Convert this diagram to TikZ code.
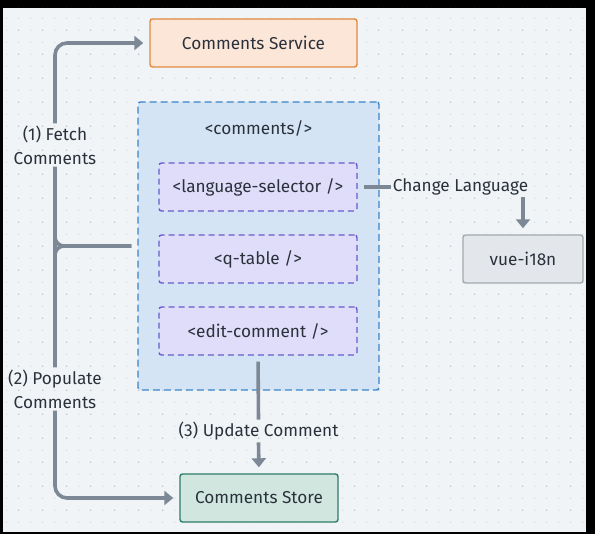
\documentclass[tikz,border=0pt]{standalone}
\usepackage{fontspec}
\setmainfont{Fira Sans}
\usetikzlibrary{positioning,arrows.meta}

\definecolor{bgcol}{HTML}{F1F4F7}
\definecolor{dotcol}{HTML}{D9DEE3}
\definecolor{dotdark}{HTML}{C3C9CF}
\definecolor{linkcol}{HTML}{7D8896}
\definecolor{txtcol}{HTML}{2B313B}
\definecolor{svcdraw}{HTML}{E2893E}
\definecolor{svcfill}{HTML}{FBE6D8}
\definecolor{outdraw}{HTML}{3A86C8}
\definecolor{outfill}{HTML}{D4E4F4}
\definecolor{cmpdraw}{HTML}{6A5ACD}
\definecolor{cmpfill}{HTML}{E0DDFA}
\definecolor{extdraw}{HTML}{A3A9AF}
\definecolor{extfill}{HTML}{E3E7EB}
\definecolor{stodraw}{HTML}{2E7D66}
\definecolor{stofill}{HTML}{D1E6DF}

\begin{document}
\begin{tikzpicture}[x=1pt,y=-1pt,
  font=\fontsize{17.2}{24}\selectfont, text=txtcol,
  box/.style={rounded corners=2.5pt, line width=1.4pt, minimum height=48pt, inner sep=0pt},
  cmp/.style={box, dashed, dash pattern=on 6pt off 4pt, draw=cmpdraw, fill=cmpfill, minimum width=198pt},
  lbl/.style={align=center, inner sep=2pt},
  link/.style={draw=linkcol, line width=3.6pt},
  arr/.style={link, -{Triangle[length=9pt,width=14pt]}}]
	%BACKGROUND
	\fill[black] (0,0) rectangle (595,534);
	\fill[bgcol] (3,8) rectangle (586,532);
	\begin{scope}
		\clip (3,8) rectangle (586,532);
		\foreach \i in {0,...,48}
			\foreach \j in {0,...,44}
				\fill[dotcol] (6.7+12*\i,6.3+12*\j) circle (0.8pt);
		\foreach \i in {0,...,24}
			\foreach \j in {0,...,22}
				\fill[dotdark] (18.7+24*\i,6.3+24*\j) circle (0.8pt);
	\end{scope}

	%BOXES
	\node[box, draw=svcdraw, fill=svcfill, minimum width=207pt] (service) at (253.5,43) {Comments Service};
	\node[box, dashed, dash pattern=on 7pt off 4pt, draw=outdraw, fill=outfill, minimum width=241pt, minimum height=288pt] (comments) at (258.5,246) {};
	\node (title) at (258.5,128) {<comments/>};
	\node[cmp] (selector) at (258,187) {<language-selector />};
	\node[cmp] (qtable) at (258,259) {<q-table />};
	\node[cmp] (edit) at (258,331) {<edit-comment />};
	\node[box, draw=extdraw, fill=extfill, minimum width=120pt] (i18n) at (523,259) {vue-i18n};
	\node[box, draw=stodraw, fill=stofill, minimum width=158pt] (store) at (259,498) {Comments Store};

	%LABELS
	\node[lbl] (fetch) at (55,145) {(1) Fetch\\Comments};
	\node[lbl] (populate) at (55,389) {(2) Populate\\Comments};
	\node[lbl] (change) at (460.5,187) {Change Language};
	\node[lbl] (update) at (258.5,431) {(3) Update Comment};

	%LINKS
	\draw[link] (fetch.south) -- (populate.north);
	\draw[link, rounded corners=9pt, shorten >=6pt] (fetch.south) |- (comments.west);
	\draw[link, rounded corners=9pt, shorten >=6pt] (populate.north) |- (comments.west);
	\draw[arr, rounded corners=12pt, shorten >=6pt] (fetch.north) |- (service.west);
	\draw[arr, rounded corners=12pt, shorten >=6pt] (populate.south) |- (store.west);
	\draw[link, shorten <=6pt] (selector.east) -- (change.west);
	\draw[arr, shorten >=6pt] (change.south -| i18n.north) -- (i18n.north);
	\draw[link, shorten <=6pt] (edit.south) -- (update.north);
	\draw[arr, shorten >=6pt] (update.south) -- (store.north);
\end{tikzpicture}
\end{document}
